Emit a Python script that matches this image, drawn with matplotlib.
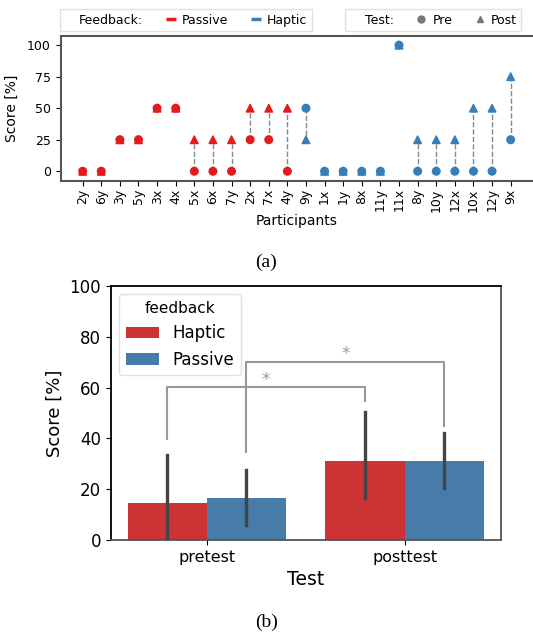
import matplotlib
matplotlib.use("Agg")
import matplotlib.pyplot as plt
from matplotlib.lines import Line2D
import numpy as np

# --- data (a): per-participant scores ---
participants = ["2y", "6y", "3y", "5y", "3x", "4x", "5x", "6x", "7y", "2x", "7x", "4y",
                "9y", "1x", "1y", "8x", "11y", "11x", "8y", "10y", "12x", "10x", "12y", "9x"]
group = ["Passive"] * 12 + ["Haptic"] * 12
pre_scores = [0, 0, 25, 25, 50, 50, 0, 0, 0, 25, 25, 0,
              50, 0, 0, 0, 0, 100, 0, 0, 0, 0, 0, 25]
post_scores = [0, 0, 25, 25, 50, 50, 25, 25, 25, 50, 50, 50,
               25, 0, 0, 0, 0, 100, 25, 25, 25, 50, 50, 75]

# --- data (b): mean score per test and feedback ---
tests = ["pretest", "posttest"]
feedback = ["Haptic", "Passive"]
mean_haptic = [14.6, 31.25]
mean_passive = [16.7, 31.25]
ci_haptic = [(0.0, 33.5), (16.4, 50.3)]
ci_passive = [(5.9, 27.6), (20.6, 42.0)]

RED = "#e41a1c"
BLUE = "#377eb8"
BAR_RED = "#cb3335"
BAR_BLUE = "#477ca8"
SPINE = "#555555"

fig = plt.figure(figsize=(5.33, 6.37), dpi=100)

# ---------------- (a) ----------------
ax1 = fig.add_axes([0.1139, 0.7163, 0.8861, 0.2277])
x = np.arange(len(participants))
cols = [RED if g == "Passive" else BLUE for g in group]
ax1.vlines(x, pre_scores, post_scores, colors="#888888", linestyles="--", linewidth=1, zorder=1)
ax1.scatter(x, pre_scores, c=cols, marker="o", s=30, zorder=3)
ax1.scatter(x, post_scores, c=cols, marker="^", s=30, zorder=3)
ax1.set_xticks(x)
ax1.set_xticklabels(participants, rotation=90, fontsize=9)
ax1.set_yticks([0, 25, 50, 75, 100])
ax1.tick_params(axis="y", labelsize=9)
ax1.tick_params(axis="x", pad=2)
ax1.set_xlim(-1.18, 24.2)
ax1.set_ylim(-7.5, 107.5)
ax1.set_xlabel("Participants", fontsize=10, labelpad=2)
ax1.set_ylabel("Score [%]", fontsize=10, labelpad=6)
for s in ax1.spines.values():
    s.set_color(SPINE)
    s.set_linewidth(1.5)
ax1.spines["right"].set_visible(False)

fb_handles = [Line2D([], [], linestyle="none"),
              Line2D([], [], marker="_", linestyle="none", color=RED, markersize=7, mew=2.5),
              Line2D([], [], marker="_", linestyle="none", color=BLUE, markersize=7, mew=2.5)]
fig.legend(fb_handles, ["Feedback:", "Passive", "Haptic"], ncol=3, fontsize=9,
           loc="upper left", bbox_to_anchor=(0.1, 0.995), handlelength=0.6,
           handletextpad=0.6, columnspacing=1.9, fancybox=False, edgecolor="0.85",
           borderpad=0.35)
test_handles = [Line2D([], [], linestyle="none"),
                Line2D([], [], marker="o", linestyle="none", color="#777777", markersize=5),
                Line2D([], [], marker="^", linestyle="none", color="#777777", markersize=5)]
fig.legend(test_handles, ["Test:", "Pre", "Post"], ncol=3, fontsize=9,
           loc="upper left", bbox_to_anchor=(0.636, 0.995), handlelength=0.6,
           handletextpad=0.6, columnspacing=1.9, fancybox=False, edgecolor="0.85",
           borderpad=0.35)

fig.text(0.5, 0.588, "(a)", ha="center", va="center", fontsize=14, family="Liberation Serif")

# ---------------- (b) ----------------
ax2 = fig.add_axes([0.2077, 0.1523, 0.7317, 0.3987])
xb = np.arange(len(tests))
w = 0.4
ax2.bar(xb - w / 2, mean_haptic, width=w, color=BAR_RED, label=feedback[0])
ax2.bar(xb + w / 2, mean_passive, width=w, color=BAR_BLUE, label=feedback[1])
for i in range(len(tests)):
    ax2.plot([xb[i] - w / 2] * 2, ci_haptic[i], color="#444444", lw=2.4, zorder=3)
    ax2.plot([xb[i] + w / 2] * 2, ci_passive[i], color="#444444", lw=2.4, zorder=3)

# significance brackets
def bracket(x0, x1, y0, y1, top, label_y):
    ax2.plot([x0, x0, x1, x1], [y0, top, top, y1], color="#999999", lw=1.5, zorder=2)
    ax2.text((x0 + x1) / 2, label_y, "*", ha="center", va="center", color="#999999", fontsize=12)

bracket(-w / 2, 1 - w / 2, 39.7, 54.7, 60.2, 63.0)
bracket(w / 2, 1 + w / 2, 34.8, 44.9, 70.0, 73.2)

ax2.set_xlim(-0.485, 1.485)
ax2.set_ylim(0, 100)
ax2.set_xticks(xb)
ax2.set_xticklabels(tests, fontsize=11.5)
ax2.set_yticks([0, 20, 40, 60, 80, 100])
ax2.tick_params(axis="y", labelsize=12)
ax2.set_xlabel("Test", fontsize=13.5)
ax2.set_ylabel("Score [%]", fontsize=13)
for s in ["top", "left"]:
    ax2.spines[s].set_color("black")
for s in ["bottom", "right"]:
    ax2.spines[s].set_color(SPINE)
for s in ax2.spines.values():
    s.set_linewidth(1.3)
ax2.legend(title="feedback", loc="upper left", fontsize=12, title_fontsize=11,
           handlelength=2.0, edgecolor="0.85")

fig.text(0.5, 0.023, "(b)", ha="center", va="center", fontsize=14, family="Liberation Serif")

fig.savefig("out.png", dpi=100)
